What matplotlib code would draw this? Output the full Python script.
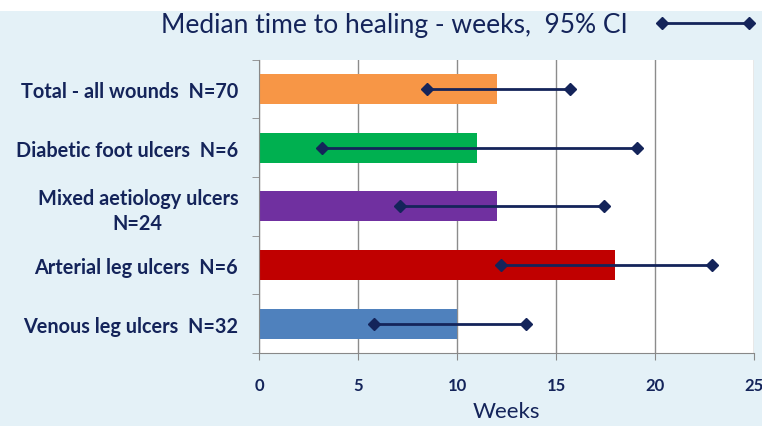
import matplotlib
matplotlib.use("Agg")
import matplotlib.pyplot as plt
from matplotlib.patches import Rectangle

# data (top to bottom)
categories = ["Total - all wounds  N=70", "Diabetic foot ulcers  N=6",
              "Mixed aetiology ulcers\nN=24", "Arterial leg ulcers  N=6",
              "Venous leg ulcers  N=32"]
median_weeks = [12, 11, 12, 18, 10]
ci_low = [8.5, 3.2, 7.1, 12.2, 5.8]
ci_high = [15.7, 19.1, 17.4, 22.9, 13.5]
bar_colors = ["#f79646", "#00b050", "#7030a0", "#c00000", "#4f81bd"]
x_ticks = [0, 5, 10, 15, 20, 25]

navy = "#14245a"
plt.rcParams['font.family'] = ['Lato', 'DejaVu Sans']

fig = plt.figure(figsize=(7.62, 4.27), dpi=100, facecolor="white")
# light blue panel behind the chart
fig.patches.append(Rectangle((0, 0), 1, (427 - 12) / 427, transform=fig.transFigure,
                             facecolor="#e4f1f7", edgecolor="none", zorder=-10))

ax = fig.add_axes([259 / 762, (427 - 354) / 427, 495 / 762, 293.5 / 427])
ax.set_facecolor("white")

ypos = list(range(len(categories)))
ax.barh(ypos, median_weeks, height=0.51, color=bar_colors, zorder=2)

# CI lines with diamond ends
for i in ypos:
    line, = ax.plot([ci_low[i], ci_high[i]], [i, i], color=navy, lw=2,
                    marker="D", markersize=6, zorder=3)
line.set_label("Median time to healing - weeks,  95% CI")

ax.set_xlim(0, 25)
ax.set_ylim(len(categories) - 0.5, -0.5)
ax.set_xticks(x_ticks)
ax.set_yticks(ypos)
ax.set_yticklabels(categories, fontsize=14.3, fontweight="bold", color=navy,
                   multialignment="center", linespacing=1.3)
ax.set_yticks([y + 0.5 for y in [-1] + ypos], minor=True)
ax.tick_params(axis="y", which="major", length=0, pad=15)
ax.tick_params(axis="y", which="minor", length=5, color="#888888", direction="out")
ax.tick_params(axis="x", length=5, color="#888888", direction="out", pad=12,
               labelsize=12, labelcolor=navy)
for lbl in ax.get_xticklabels():
    lbl.set_fontweight("bold")

ax.grid(axis="x", color="#8c8c8c", lw=1, zorder=0)
ax.set_axisbelow(True)
for s in ["top", "right"]:
    ax.spines[s].set_visible(False)
for s in ["left", "bottom"]:
    ax.spines[s].set_color("#888888")

ax.set_xlabel("Weeks", fontsize=16, color=navy, labelpad=6)

leg = fig.legend(loc="center right", bbox_to_anchor=(0.993, (427 - 26) / 427),
                 frameon=False, markerfirst=False, fontsize=19, numpoints=2,
                 handlelength=3.9, handletextpad=1.0, borderaxespad=0, borderpad=0)
for t in leg.get_texts():
    t.set_color(navy)

fig.savefig("out.png", dpi=100, facecolor=fig.get_facecolor())
